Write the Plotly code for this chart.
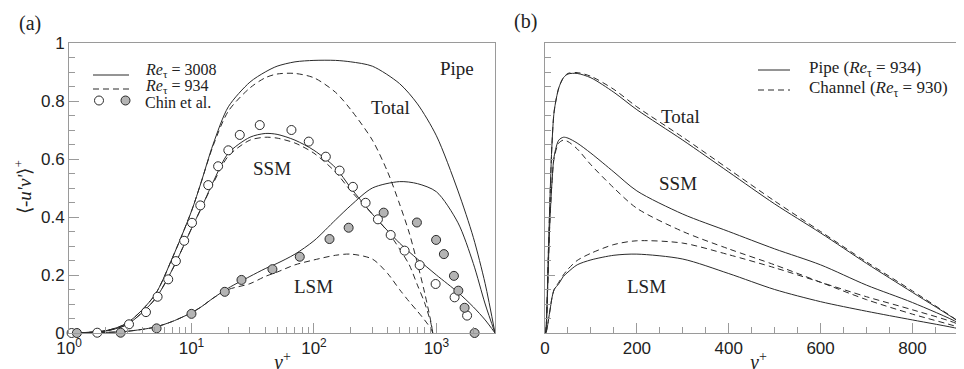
import plotly.graph_objects as go

W, H = 964, 369
OFF = 8  # page body margin offset
def px(x): return (x - OFF) / W
def py(y): return 1 - (y - OFF) / H

# ---------------- data: panel (a) pipe Re_tau = 3008 ----------------
x3008 = [1, 2, 3, 5, 7, 10, 12, 15, 20, 30, 40, 50, 70, 100, 150, 200, 300, 500, 700, 1000, 1500, 2000, 2500, 3008]
total3008 = [0, 0.008, 0.035, 0.13, 0.26, 0.42, 0.52, 0.65, 0.78, 0.865, 0.9, 0.92, 0.935, 0.94, 0.94, 0.935, 0.92, 0.86, 0.79, 0.68, 0.49, 0.33, 0.17, 0]
ssm3008 = [0, 0.007, 0.03, 0.115, 0.22, 0.36, 0.43, 0.52, 0.62, 0.675, 0.688, 0.685, 0.665, 0.63, 0.57, 0.50, 0.41, 0.31, 0.255, 0.2, 0.14, 0.09, 0.045, 0]
lsm3008 = [0, 0.002, 0.006, 0.02, 0.04, 0.07, 0.09, 0.12, 0.155, 0.195, 0.222, 0.24, 0.272, 0.318, 0.39, 0.44, 0.5, 0.522, 0.515, 0.487, 0.38, 0.24, 0.1, 0]

# ---------------- pipe Re_tau = 934 (panels a and b) ----------------
x934 = [1, 2, 3, 5, 7, 10, 12, 15, 20, 30, 40, 50, 70, 100, 150, 200, 300, 400, 500, 600, 700, 800, 900, 934]
total934 = [0, 0.008, 0.035, 0.13, 0.26, 0.42, 0.52, 0.645, 0.765, 0.845, 0.88, 0.893, 0.895, 0.88, 0.83, 0.77, 0.665, 0.555, 0.445, 0.345, 0.24, 0.14, 0.04, 0]
ssm934 = [0, 0.007, 0.03, 0.115, 0.22, 0.36, 0.43, 0.515, 0.61, 0.665, 0.675, 0.672, 0.655, 0.62, 0.555, 0.49, 0.41, 0.35, 0.29, 0.235, 0.165, 0.105, 0.035, 0]
lsm934 = [0, 0.002, 0.006, 0.02, 0.04, 0.07, 0.09, 0.12, 0.15, 0.17, 0.195, 0.21, 0.235, 0.252, 0.268, 0.272, 0.255, 0.205, 0.15, 0.108, 0.075, 0.045, 0.015, 0]

# ---------------- channel Re_tau = 930 (panel b) ----------------
xch = [1, 2, 3, 5, 7, 10, 12, 15, 20, 30, 40, 50, 70, 100, 150, 200, 300, 400, 500, 600, 700, 800, 900, 930]
totalch = [0, 0.008, 0.035, 0.13, 0.26, 0.42, 0.52, 0.645, 0.765, 0.845, 0.88, 0.895, 0.898, 0.885, 0.84, 0.78, 0.675, 0.565, 0.455, 0.35, 0.245, 0.145, 0.04, 0]
ssmch = [0, 0.007, 0.03, 0.115, 0.22, 0.36, 0.43, 0.515, 0.605, 0.655, 0.665, 0.66, 0.635, 0.58, 0.50, 0.43, 0.35, 0.29, 0.235, 0.175, 0.115, 0.065, 0.02, 0]
lsmch = [0, 0.002, 0.006, 0.02, 0.04, 0.07, 0.09, 0.12, 0.15, 0.175, 0.2, 0.22, 0.25, 0.275, 0.305, 0.318, 0.31, 0.27, 0.225, 0.175, 0.125, 0.08, 0.03, 0]

# ---------------- Chin et al. ----------------
chin_ssm_x = [1.05, 1.70, 3.09, 4.25, 5.29, 6.46, 7.46, 8.72, 10.1, 11.8, 13.7, 16.5, 20, 24.8, 36.1, 65.5, 90.7, 125, 162, 208, 264, 333, 423, 550, 730, 985, 1407, 1780]
chin_ssm_y = [0, 0.001, 0.03, 0.072, 0.125, 0.185, 0.248, 0.318, 0.38, 0.44, 0.51, 0.575, 0.63, 0.683, 0.717, 0.70, 0.66, 0.608, 0.56, 0.504, 0.449, 0.392, 0.338, 0.284, 0.234, 0.169, 0.123, 0.06]
chin_lsm_x = [1.16, 2.64, 5.19, 10.0, 18.7, 25.6, 45.8, 76.6, 134, 192, 371, 693, 994, 1151, 1390, 1510, 1698, 2050]
chin_lsm_y = [0, 0.001, 0.016, 0.066, 0.142, 0.183, 0.22, 0.263, 0.324, 0.363, 0.415, 0.381, 0.321, 0.272, 0.197, 0.146, 0.087, 0.0]

xticks_a = [1, 10, 100, 1000]
xticklabels_a = ["10<sup>0</sup>", "10<sup>1</sup>", "10<sup>2</sup>", "10<sup>3</sup>"]
xminor_a = [m * 10 ** e for e in range(0, 4) for m in range(2, 10) if m * 10 ** e < 3008]

LC = "#2a2a2a"
DASH = "6px,4px"
SERIF = "Liberation Serif"
SANS = "Liberation Sans"
AX = "#9a9a9a"

fig = go.Figure()

def line(x, y, dash, xa, ya):
    fig.add_trace(go.Scatter(x=x, y=y, mode="lines", xaxis=xa, yaxis=ya,
                             line=dict(color=LC, width=1, dash=dash, shape="spline", smoothing=0.8),
                             showlegend=False, hoverinfo="skip"))

# panel (a)
for yy in (total3008, ssm3008, lsm3008):
    line(x3008, yy, "solid", "x", "y")
for yy in (total934, ssm934, lsm934):
    line(x934, yy, DASH, "x", "y")
fig.add_trace(go.Scatter(x=chin_ssm_x, y=chin_ssm_y, mode="markers", xaxis="x", yaxis="y",
                         marker=dict(size=9, color="white", line=dict(color=LC, width=1)),
                         cliponaxis=False, showlegend=False))
fig.add_trace(go.Scatter(x=chin_lsm_x, y=chin_lsm_y, mode="markers", xaxis="x", yaxis="y",
                         marker=dict(size=9, color="#b4b4b4", line=dict(color=LC, width=1)),
                         cliponaxis=False, showlegend=False))
# panel (b)
for yy in (total934, ssm934, lsm934):
    line(x934, yy, "solid", "x2", "y2")
for yy in (totalch, ssmch, lsmch):
    line(xch, yy, DASH, "x2", "y2")

ydom = [py(333), py(43)]
tickfont = dict(family=SANS, size=17, color="#222")
common = dict(showline=True, linecolor=AX, linewidth=1, mirror=True, showgrid=False,
              zeroline=False, ticks="inside", tickcolor=AX, tickwidth=1, ticklen=10,
              tickfont=tickfont, automargin=False)

fig.update_layout(
    width=W, height=H, margin=dict(l=0, r=0, t=0, b=0, pad=0, autoexpand=False),
    paper_bgcolor="white", plot_bgcolor="white", showlegend=False,
    xaxis=dict(type="log", range=[0, 3.4783], domain=[px(69), px(495)],
               tickmode="array", tickvals=xticks_a, ticktext=xticklabels_a,
               minor=dict(ticks="inside", ticklen=6, tickcolor=AX, tickvals=xminor_a, showgrid=False),
               anchor="y", **common),
    yaxis=dict(range=[0, 1], domain=ydom, dtick=0.2, anchor="x",
               minor=dict(ticks="inside", ticklen=6, tickcolor=AX, dtick=0.05, showgrid=False),
               **common),
    xaxis2=dict(range=[0, 910], domain=[px(545), px(963)], dtick=200, anchor="y2",
                minor=dict(ticks="inside", ticklen=6, tickcolor=AX, dtick=50, showgrid=False),
                **common),
    yaxis2=dict(range=[0, 1], domain=ydom, dtick=0.2, anchor="x2", showticklabels=False,
                minor=dict(ticks="inside", ticklen=6, tickcolor=AX, dtick=0.05, showgrid=False),
                **common),
)

def text(x, y, s, size=19, xanchor="center", yanchor="middle", angle=0):
    fig.add_annotation(x=px(x), y=py(y), xref="paper", yref="paper", text=s, showarrow=False,
                       xanchor=xanchor, yanchor=yanchor, textangle=angle,
                       font=dict(family=SERIF, size=size, color="#222"))

text(30, 23, "(a)", 20)
text(525, 22, "(b)", 20)
text(23, 187, "⟨-<i>u'v'</i>⟩<sup>+</sup>", 19, angle=-90)
text(281, 361, "<i>y</i><sup>+</sup>", 20)
text(757, 361, "<i>y</i><sup>+</sup>", 20)

text(457, 68, "Pipe", 19)
text(390, 108, "Total", 19)
text(272, 168, "SSM", 19)
text(313, 286, "LSM", 19)
text(680, 117, "Total", 19)
text(678, 183, "SSM", 19)
text(646, 286, "LSM", 19)

# legend (a)
fig.add_shape(type="line", xref="paper", yref="paper", x0=px(93), x1=px(129), y0=py(75), y1=py(75),
              line=dict(color=LC, width=1))
fig.add_shape(type="line", xref="paper", yref="paper", x0=px(93), x1=px(129), y0=py(89), y1=py(89),
              line=dict(color=LC, width=1, dash=DASH))
for cx, fc in ((99, "white"), (125.5, "#b4b4b4")):
    fig.add_shape(type="circle", xref="paper", yref="paper", x0=px(cx - 4.5), x1=px(cx + 4.5),
                  y0=py(105), y1=py(96), fillcolor=fc, line=dict(color=LC, width=1))
text(143, 70, "<i>Re</i><sub>τ</sub> = 3008", 16, xanchor="left")
text(143, 87, "<i>Re</i><sub>τ</sub> = 934", 16, xanchor="left")
text(143, 102, "Chin et al.", 16, xanchor="left")

# legend (b)
fig.add_shape(type="line", xref="paper", yref="paper", x0=px(758), x1=px(790), y0=py(70), y1=py(70),
              line=dict(color=LC, width=1))
fig.add_shape(type="line", xref="paper", yref="paper", x0=px(758), x1=px(790), y0=py(90), y1=py(90),
              line=dict(color=LC, width=1, dash=DASH))
text(807, 69, "Pipe (<i>Re</i><sub>τ</sub> = 934)", 17, xanchor="left")
text(807, 89, "Channel (<i>Re</i><sub>τ</sub> = 930)", 17, xanchor="left")

fig.write_html("out.html")
